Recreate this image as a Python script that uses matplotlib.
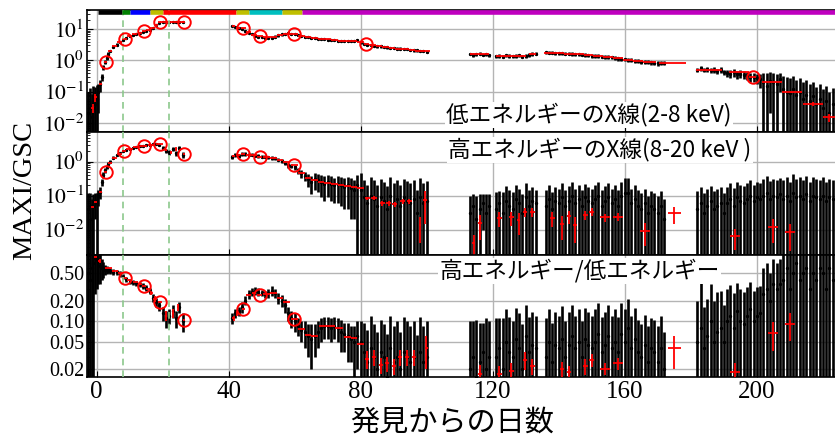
import numpy as np
import matplotlib
matplotlib.use('Agg')
import matplotlib.pyplot as plt
from matplotlib.ticker import NullFormatter

plt.rcParams['mathtext.fontset'] = 'stix'
plt.rcParams['font.family'] = ['Liberation Serif', 'DejaVu Serif']
JP = ['Noto Sans CJK JP', 'DejaVu Sans']

# ---------------- black (daily) data, per segment ----------------
days_A = [-2.5, -2, -1.5, -1, -0.5, 0, 0.5, 1, 1.5, 2, 2.5, 3, 3.5,
          4, 5, 6, 7, 8, 9, 10, 11, 12, 13, 14, 15, 16, 17, 18, 19, 20, 21, 22, 23, 24, 25, 26]
lo_A = [0.02, 0.03, 0.015, 0.03, 0.04, 0.06, 0.1, 0.17, 0.3, 0.6, 0.9, 1.2, 1.6,
        2.0, 2.7, 3.2, 3.8, 4.6, 5.3, 6.0, 6.6, 7.1, 7.8, 8.4, 8.8, 9.5, 11, 14, 16,
        17, 17.5, 16.8, 17.2, 16.9, 17.3, 16.6]
lo_A_err = [0.08, 0.1, 0.07, 0.12, 0.1, 0.1, 0.08, 0.07, 0.08, 0.1, 0.12, 0.15, 0.2,
            0.2, 0.25, 0.3, 0.3, 0.35, 0.4, 0.4, 0.45, 0.45, 0.5, 0.5, 0.5, 0.6, 0.7, 0.8, 0.8,
            0.8, 0.8, 0.8, 0.8, 0.8, 0.8, 0.8]
hi_A = [0.04, 0.05, 0.02, 0.05, 0.07, 0.06, 0.1, 0.13, 0.25, 0.4, 0.55, 0.7, 0.85,
        1.0, 1.3, 1.6, 1.8, 2.0, 2.2, 2.4, 2.5, 2.7, 2.8, 2.9, 3.0, 3.1, 3.2, 3.2, 3.1,
        2.5, 2.1, 1.9, 2.3, 1.8, 2.5, 1.6]
hi_A_err = [0.08, 0.07, 0.06, 0.06, 0.05, 0.06, 0.05, 0.05, 0.06, 0.08, 0.08, 0.08, 0.1,
            0.1, 0.12, 0.12, 0.14, 0.15, 0.15, 0.16, 0.17, 0.17, 0.18, 0.18, 0.2, 0.2, 0.2, 0.2, 0.2,
            0.3, 0.3, 0.3, 0.3, 0.3, 0.3, 0.3]
hr_A = [0.5, 0.4, 0.6, 0.7, 0.85, 0.8, 0.75, 0.65, 0.6, 0.58, 0.57, 0.57, 0.56,
        0.55, 0.53, 0.52, 0.5, 0.45, 0.41, 0.38, 0.37, 0.36, 0.35, 0.33, 0.31, 0.28, 0.22, 0.19, 0.17,
        0.13, 0.11, 0.12, 0.14, 0.11, 0.16, 0.1]
hr_A_err = [1.0, 0.8, 1.0, 0.8, 0.6, 0.5, 0.4, 0.3, 0.2, 0.15, 0.1, 0.08, 0.06,
            0.06, 0.05, 0.05, 0.05, 0.04, 0.04, 0.03, 0.03, 0.03, 0.03, 0.03, 0.03, 0.03, 0.03, 0.03, 0.03,
            0.03, 0.03, 0.03, 0.03, 0.03, 0.03, 0.03]

days_B = list(range(41, 101))
lo_B = [13, 12, 11, 10, 9, 7.8, 6.8, 6.2, 5.8, 5.5,
        5.3, 5.2, 5.4, 5.8, 6.3, 6.8, 7.2, 7.3, 7.0, 7.1,
        6.6, 6.1, 5.8, 5.5, 5.3, 5.1, 5.0, 4.9, 4.7, 4.6,
        4.5, 4.4, 4.3, 4.3, 4.2, 4.1, 4.1, 4.3, 4.6, 3.8,
        3.4, 3.2, 3.1, 2.9, 2.8, 2.8, 2.7, 2.6, 2.5, 2.5,
        2.4, 2.4, 2.3, 2.3, 2.2, 2.1, 2.1, 2.0, 2.0, 1.9]
lo_B_err = [0.8, 0.7, 0.7, 0.6, 0.6, 0.5, 0.5, 0.5, 0.4, 0.4,
            0.4, 0.5, 0.4, 0.5, 0.5, 0.6, 0.5, 0.5, 0.5, 0.5,
            0.4, 0.4, 0.4, 0.35, 0.35, 0.35, 0.3, 0.35, 0.3, 0.3,
            0.3, 0.3, 0.3, 0.3, 0.3, 0.3, 0.3, 0.35, 0.4, 0.35,
            0.3, 0.3, 0.25, 0.25, 0.25, 0.25, 0.2, 0.25, 0.2, 0.2,
            0.2, 0.2, 0.2, 0.2, 0.2, 0.2, 0.2, 0.15, 0.15, 0.15]
hi_B = [1.4, 1.6, 1.5, 1.7, 1.7, 1.6, 1.6, 1.5, 1.45, 1.4,
        1.4, 1.35, 1.3, 1.25, 1.15, 1.05, 0.9, 0.8, 0.75, 0.7,
        0.55, 0.45, 0.38, 0.3, 0.25, 0.3, 0.28, 0.25, 0.22, 0.25,
        0.22, 0.2, 0.22, 0.2, 0.18, 0.2, 0.17, 0.15, 0.2, 0.15,
        0.09, 0.06, 0.1, 0.08, 0.05, 0.09, 0.07, 0.04, 0.1, 0.06,
        0.08, 0.05, 0.09, 0.07, 0.06, 0.08, 0.03, 0.09, 0.06, 0.07]
hi_B_err = [0.2, 0.2, 0.2, 0.2, 0.2, 0.18, 0.18, 0.17, 0.17, 0.16,
            0.16, 0.15, 0.15, 0.15, 0.14, 0.14, 0.13, 0.13, 0.12, 0.12,
            0.12, 0.12, 0.12, 0.12, 0.14, 0.15, 0.15, 0.16, 0.15, 0.16,
            0.15, 0.14, 0.16, 0.15, 0.14, 0.16, 0.15, 0.13, 0.2, 0.3,
            0.2, 0.15, 0.25, 0.2, 0.15, 0.22, 0.18, 0.15, 0.25, 0.18,
            0.2, 0.15, 0.22, 0.2, 0.18, 0.2, 0.12, 0.25, 0.18, 0.2]
hr_B = [0.11, 0.13, 0.14, 0.16, 0.2, 0.25, 0.27, 0.28, 0.27, 0.26,
        0.25, 0.26, 0.28, 0.26, 0.22, 0.2, 0.17, 0.13, 0.11, 0.1,
        0.085, 0.075, 0.07, 0.06, 0.055, 0.06, 0.07, 0.08, 0.085, 0.085,
        0.08, 0.085, 0.08, 0.07, 0.065, 0.06, 0.055, 0.05, 0.06, 0.05,
        0.035, 0.025, 0.04, 0.03, 0.02, 0.035, 0.03, 0.015, 0.04, 0.025,
        0.03, 0.02, 0.035, 0.03, 0.025, 0.03, 0.012, 0.035, 0.025, 0.03]
hr_B_err = [0.02, 0.02, 0.02, 0.03, 0.03, 0.04, 0.04, 0.04, 0.04, 0.03,
            0.03, 0.04, 0.05, 0.04, 0.04, 0.04, 0.04, 0.03, 0.03, 0.03,
            0.025, 0.025, 0.03, 0.03, 0.035, 0.03, 0.03, 0.03, 0.03, 0.03,
            0.03, 0.03, 0.03, 0.035, 0.03, 0.035, 0.03, 0.035, 0.04, 0.05,
            0.06, 0.05, 0.08, 0.06, 0.05, 0.07, 0.06, 0.05, 0.08, 0.06,
            0.07, 0.05, 0.08, 0.07, 0.06, 0.07, 0.05, 0.08, 0.06, 0.07]

days_C = [113, 114, 115, 116, 117, 118, 119]
lo_C = [1.6, 1.5, 1.55, 1.65, 1.5, 1.6, 1.45]
lo_C_err = [0.15, 0.18, 0.15, 0.2, 0.15, 0.18, 0.2]
hi_C = [0.03, 0.05, 0.02, 0.04, 0.06, 0.03, 0.05]
hi_C_err = [0.07, 0.06, 0.08, 0.07, 0.05, 0.08, 0.06]
hr_C = [0.02, 0.03, 0.015, 0.025, 0.035, 0.02, 0.03]
hr_C_err = [0.08, 0.07, 0.09, 0.07, 0.06, 0.09, 0.07]

days_D = list(range(121, 134))
lo_D = [1.35, 1.4, 1.3, 1.45, 1.4, 1.35, 1.4, 1.45, 1.3, 1.4, 1.5, 1.6, 1.65]
lo_D_err = [0.15, 0.18, 0.15, 0.2, 0.18, 0.15, 0.2, 0.18, 0.15, 0.2, 0.18, 0.2, 0.2]
hi_D = [0.04, 0.06, 0.03, 0.07, 0.05, 0.04, 0.08, 0.06, 0.03, 0.09, 0.05, 0.07, 0.06]
hi_D_err = [0.09, 0.08, 0.1, 0.12, 0.1, 0.09, 0.12, 0.1, 0.08, 0.14, 0.1, 0.11, 0.09]
hr_D = [0.03, 0.04, 0.02, 0.05, 0.035, 0.03, 0.055, 0.04, 0.02, 0.06, 0.035, 0.045, 0.04]
hr_D_err = [0.08, 0.07, 0.09, 0.1, 0.08, 0.07, 0.1, 0.09, 0.07, 0.11, 0.08, 0.09, 0.08]

days_E = list(range(136, 173))
lo_E = [1.8, 1.75, 1.78, 1.72, 1.7, 1.7, 1.65, 1.62, 1.6, 1.58,
        1.55, 1.52, 1.5, 1.45, 1.42, 1.4, 1.36, 1.33, 1.3, 1.28,
        1.25, 1.2, 1.15, 1.12, 1.08, 1.05, 1.02, 0.98, 0.95, 0.92,
        0.9, 0.88, 0.86, 0.82, 0.8, 0.85, 0.82]
lo_E_err = [0.2, 0.18, 0.2, 0.18, 0.2, 0.18, 0.2, 0.18, 0.2, 0.18,
            0.2, 0.18, 0.2, 0.18, 0.2, 0.18, 0.2, 0.18, 0.2, 0.18,
            0.18, 0.17, 0.16, 0.16, 0.15, 0.16, 0.15, 0.15, 0.15, 0.14,
            0.14, 0.14, 0.13, 0.13, 0.13, 0.12, 0.12]
hi_E = [0.05, 0.08, 0.04, 0.07, 0.06, 0.09, 0.05, 0.07, 0.1, 0.06,
        0.08, 0.05, 0.09, 0.07, 0.06, 0.08, 0.1, 0.05, 0.07, 0.09,
        0.06, 0.08, 0.05, 0.1, 0.12, 0.12, 0.06, 0.08, 0.05, 0.04,
        0.06, 0.03, 0.05, 0.04, 0.03, 0.05, 0.02]
hi_E_err = [0.1, 0.12, 0.09, 0.11, 0.1, 0.14, 0.1, 0.12, 0.15, 0.1,
            0.12, 0.1, 0.13, 0.11, 0.1, 0.12, 0.15, 0.1, 0.12, 0.14,
            0.1, 0.12, 0.1, 0.15, 0.2, 0.2, 0.1, 0.12, 0.1, 0.08,
            0.1, 0.07, 0.09, 0.08, 0.07, 0.09, 0.06]
hr_E = [0.03, 0.05, 0.025, 0.045, 0.04, 0.055, 0.03, 0.045, 0.06, 0.04,
        0.05, 0.03, 0.055, 0.045, 0.04, 0.05, 0.065, 0.035, 0.045, 0.06,
        0.04, 0.05, 0.035, 0.065, 0.05, 0.08, 0.04, 0.055, 0.035, 0.03,
        0.045, 0.025, 0.04, 0.035, 0.025, 0.04, 0.02]
hr_E_err = [0.08, 0.1, 0.07, 0.09, 0.08, 0.11, 0.07, 0.09, 0.11, 0.08,
            0.1, 0.07, 0.1, 0.09, 0.08, 0.1, 0.12, 0.08, 0.09, 0.11,
            0.08, 0.1, 0.08, 0.12, 0.1, 0.13, 0.08, 0.1, 0.07, 0.06,
            0.08, 0.06, 0.07, 0.07, 0.06, 0.08, 0.05]

days_F = list(range(182, 225))
lo_F = [0.5, 0.55, 0.5, 0.52, 0.48, 0.5, 0.45, 0.5, 0.42,
        0.4, 0.38, 0.42, 0.36, 0.38, 0.35, 0.33, 0.3, 0.3, 0.28, 0.25,
        0.2, 0.15, 0.22, 0.2, 0.18, 0.25,
        0.12, 0.1, 0.09, 0.12, 0.08, 0.1, 0.06, 0.08, 0.05, 0.07, 0.04, 0.06, 0.03, 0.05, 0.02, 0.04, 0.03]
lo_F_err = [0.08, 0.1, 0.08, 0.1, 0.08, 0.1, 0.08, 0.1, 0.08,
            0.1, 0.1, 0.12, 0.1, 0.1, 0.1, 0.1, 0.1, 0.1, 0.1, 0.12,
            0.2, 0.25, 0.2, 0.2, 0.2, 0.15,
            0.2, 0.2, 0.18, 0.2, 0.16, 0.18, 0.14, 0.15, 0.12, 0.14, 0.1, 0.12, 0.09, 0.1, 0.08, 0.09, 0.08]
hi_F = [0.04, 0.06, 0.03, 0.05, 0.07, 0.04, 0.05, 0.06, 0.03,
        0.06, 0.08, 0.05, 0.09, 0.07, 0.06, 0.08, 0.1, 0.07, 0.09, 0.08,
        0.1, 0.12, 0.08, 0.1, 0.09, 0.11,
        0.08, 0.1, 0.07, 0.12, 0.09, 0.1, 0.08, 0.11, 0.07, 0.1, 0.09, 0.08, 0.1, 0.07, 0.09, 0.08, 0.1]
hi_F_err = [0.1, 0.12, 0.09, 0.11, 0.12, 0.1, 0.11, 0.12, 0.09,
            0.12, 0.15, 0.12, 0.16, 0.14, 0.13, 0.15, 0.18, 0.14, 0.16, 0.15,
            0.2, 0.25, 0.18, 0.2, 0.2, 0.22,
            0.2, 0.25, 0.18, 0.3, 0.22, 0.25, 0.2, 0.28, 0.18, 0.25, 0.22, 0.2, 0.25, 0.18, 0.22, 0.2, 0.25]
hr_F = [0.05, 0.08, 0.04, 0.06, 0.1, 0.05, 0.07, 0.08, 0.05,
        0.1, 0.12, 0.08, 0.14, 0.1, 0.09, 0.12, 0.15, 0.1, 0.12, 0.13,
        0.25, 0.3, 0.2, 0.35, 0.3, 0.35,
        0.4, 0.6, 0.3, 0.5, 0.7, 0.4, 0.5, 0.6, 0.3, 0.5, 0.4, 0.6, 0.5, 0.3, 0.6, 0.4, 0.5]
hr_F_err = [0.15, 0.28, 0.12, 0.15, 0.25, 0.15, 0.2, 0.2, 0.12,
            0.2, 0.22, 0.18, 0.22, 0.2, 0.18, 0.2, 0.22, 0.18, 0.2, 0.2,
            0.35, 0.4, 0.3, 0.45, 0.4, 0.45,
            0.9, 1.0, 0.8, 1.0, 0.9, 1.0, 0.8, 0.9, 1.0, 0.8, 0.9, 1.0, 0.9, 0.8, 1.0, 0.9, 1.0]

# ---------------- red binned data: (centre day, half width, value, error) ----------------
red_lo = [(-1.2, 0.4, 0.03, 0.01), (-0.4, 0.4, 0.066, 0.02), (1.1, 0.5, 0.17, 0), (2.7, 0.5, 0.88, 0),
          (4.0, 0.7, 2.0, 0), (5.5, 0.8, 2.9, 0), (7.0, 0.7, 3.8, 0), (8.5, 0.8, 4.8, 0), (10.0, 0.7, 6.0, 0),
          (11.5, 0.8, 6.9, 0), (13.0, 0.6, 7.8, 0), (14.2, 0.6, 8.6, 0), (15.5, 0.7, 9.2, 0), (17.0, 0.8, 11, 0),
          (18.1, 0.5, 14, 0), (19.1, 0.5, 16.5, 0), (22.75, 3.6, 17, 0), (26.4, 0.5, 16.5, 0),
          (41.5, 0.5, 12.5, 0), (42.8, 0.7, 11, 0), (44.4, 0.8, 10.5, 0), (46.0, 0.8, 8, 0), (47.7, 0.8, 6.5, 0),
          (49.4, 0.9, 5.9, 0), (51.5, 1, 5.5, 0), (53.5, 1, 5.6, 0), (55.5, 1, 6.3, 0), (57.5, 1, 6.9, 0),
          (59.9, 1.2, 7.2, 0), (62, 1, 6.1, 0), (64, 1, 5.6, 0), (66, 1, 5.2, 0), (68, 1, 4.9, 0), (70, 1, 4.7, 0),
          (72, 1, 4.5, 0), (74, 1, 4.3, 0), (76, 1, 4.1, 0), (78, 1, 4.2, 0), (80, 1, 3.8, 0), (81.7, 0.8, 3.45, 0),
          (83.5, 1, 3.1, 0), (85.5, 1, 2.9, 0), (87.5, 1, 2.7, 0), (89.5, 1, 2.5, 0), (91.5, 1, 2.4, 0),
          (93.5, 1, 2.3, 0), (95.5, 1, 2.2, 0), (97.5, 1, 2.05, 0), (99.8, 1.3, 1.95, 0),
          (114.5, 1.5, 1.65, 0), (117.5, 1.5, 1.55, 0), (122.5, 1.5, 1.38, 0), (125.5, 1.5, 1.38, 0),
          (128.5, 1.5, 1.4, 0), (132, 1, 1.65, 0), (137, 1.5, 1.75, 0), (140, 1.5, 1.7, 0), (143, 1.5, 1.6, 0),
          (146, 1.5, 1.55, 0), (149, 1.5, 1.45, 0), (152, 1.5, 1.35, 0), (155, 1.5, 1.3, 0), (158, 1.5, 1.15, 0),
          (161, 1.5, 1.05, 0), (164, 1.5, 0.95, 0), (167.5, 2, 0.9, 0), (174.5, 4, 0.84, 0),
          (185.5, 4, 0.51, 0), (194.5, 3, 0.42, 0), (198.7, 1.2, 0.30, 0), (204.5, 3, 0.21, 0),
          (210.6, 3, 0.095, 0.005), (217, 3, 0.040, 0.005), (222, 2, 0.015, 0.004)]
red_hi = [(-1.2, 0.4, 0.047, 0), (-0.4, 0.4, 0.066, 0), (1.1, 0.5, 0.126, 0), (2.7, 0.5, 0.49, 0),
          (4.0, 0.7, 0.9, 0), (5.5, 0.8, 1.3, 0), (7.0, 0.7, 1.7, 0), (8.3, 0.6, 2.0, 0), (10, 1, 2.3, 0),
          (12, 1, 2.6, 0), (14.2, 1, 2.9, 0), (16.5, 1, 3.0, 0), (19.1, 1, 3.2, 0), (21, 0.3, 2.2, 0.2),
          (22.5, 0.3, 1.9, 0.2), (24, 0.3, 2.3, 0.3), (26.4, 0.4, 1.7, 0),
          (41.5, 0.5, 1.45, 0), (42.8, 0.5, 1.6, 0), (44.4, 0.6, 1.7, 0), (46, 0.8, 1.6, 0), (47.7, 0.8, 1.55, 0),
          (49.4, 0.8, 1.4, 0), (51.5, 1, 1.4, 0), (53.5, 1, 1.3, 0), (55.5, 1, 1.15, 0), (57.5, 1, 0.95, 0),
          (59.9, 1, 0.78, 0), (62, 1, 0.46, 0), (64, 1, 0.33, 0), (66, 1, 0.28, 0), (68, 1, 0.25, 0),
          (70, 1, 0.23, 0), (72, 1, 0.22, 0), (74, 1, 0.21, 0), (76, 1, 0.19, 0), (78, 1, 0.18, 0), (80, 1, 0.17, 0),
          (82, 0.8, 0.084, 0.01), (84, 0.8, 0.085, 0.01), (86.5, 0.8, 0.06, 0.01), (88.5, 0.8, 0.06, 0.01),
          (90.3, 0.8, 0.055, 0.01), (92.7, 0.8, 0.07, 0.012), (94.7, 0.8, 0.07, 0.012), (97.9, 0.3, 0.014, 0.01),
          (99.4, 0.6, 0.075, 0.06),
          (114.2, 0.4, 0.004, 0.003), (116, 0.6, 0.016, 0.011), (122, 0.8, 0.022, 0.01), (125.6, 0.8, 0.023, 0.01),
          (127.8, 0.6, 0.019, 0.012), (129.7, 0.6, 0.034, 0.01), (132, 0.8, 0.034, 0.01), (138, 0.8, 0.022, 0.01),
          (141, 0.6, 0.015, 0.01), (143, 0.6, 0.025, 0.01), (145, 0.6, 0.014, 0.01), (148, 0.8, 0.027, 0.008),
          (150, 0.8, 0.034, 0.008), (154, 1.5, 0.023, 0.006), (158, 1.5, 0.024, 0.006), (166, 1.5, 0.0092, 0.006),
          (175, 2, 0.030, 0.015), (193.3, 1.5, 0.0065, 0.004), (205, 1.5, 0.012, 0.008), (210, 1.5, 0.0084, 0.006)]
red_hr = [(-0.4, 0.4, 0.88, 0), (0.9, 0.5, 0.77, 0.05), (3.5, 1, 0.59, 0), (5.5, 1, 0.55, 0), (7.2, 0.8, 0.5, 0),
          (8.5, 0.7, 0.43, 0), (10, 0.8, 0.4, 0), (11.7, 0.8, 0.37, 0), (13, 0.6, 0.35, 0), (14.2, 0.6, 0.33, 0),
          (15.5, 0.6, 0.3, 0), (16.5, 0.5, 0.26, 0.02), (17.7, 0.6, 0.21, 0.02), (19.1, 0.6, 0.19, 0),
          (21, 0.3, 0.12, 0.02), (23, 0.3, 0.13, 0.02), (24.5, 0.3, 0.16, 0.02), (26.4, 0.4, 0.103, 0),
          (41.5, 0.4, 0.11, 0.01), (42.5, 0.4, 0.13, 0.01), (44.4, 0.5, 0.153, 0), (46, 0.7, 0.24, 0),
          (47.7, 0.7, 0.26, 0), (49.4, 0.7, 0.24, 0), (51.5, 1, 0.25, 0), (53.5, 1, 0.26, 0), (55.5, 1, 0.22, 0),
          (57.5, 1, 0.19, 0), (59.9, 1, 0.108, 0), (62, 1, 0.078, 0), (64, 1, 0.062, 0), (66, 1, 0.06, 0),
          (68.5, 1.2, 0.085, 0), (71, 1.2, 0.085, 0), (73.5, 1.2, 0.08, 0), (76, 1, 0.058, 0), (78, 1, 0.056, 0),
          (80, 1, 0.047, 0), (82, 0.6, 0.028, 0.008), (84, 0.6, 0.03, 0.008), (86, 0.6, 0.023, 0.006),
          (88, 0.6, 0.024, 0.006), (90, 0.6, 0.022, 0.006), (92, 0.6, 0.03, 0.008), (94, 0.6, 0.03, 0.008),
          (96, 0.6, 0.03, 0.008), (99.9, 0.5, 0.04, 0.02),
          (116, 0.6, 0.017, 0.006), (122, 0.8, 0.017, 0.005), (125.6, 0.8, 0.0186, 0.006), (129.7, 0.6, 0.027, 0.008),
          (132, 0.8, 0.022, 0.006), (141, 0.6, 0.02, 0.005), (143, 0.6, 0.018, 0.004), (148, 0.8, 0.022, 0.006),
          (150, 0.8, 0.027, 0.006), (154, 1.5, 0.02, 0.004), (158, 1.5, 0.024, 0.005), (175, 2, 0.040, 0.02),
          (193.3, 1.5, 0.018, 0.006), (205, 1.5, 0.066, 0.03), (210, 1.5, 0.092, 0.04)]

# ---------------- circled epochs ----------------
circ_lo_x = [2.7, 8.5, 14.2, 19.1, 26.4, 44.4, 49.4, 59.9, 81.7, 198.7]
circ_lo_y = [0.88, 4.8, 8.6, 16.5, 16.5, 10.5, 5.9, 7.2, 3.45, 0.30]
circ_hi_x = [2.7, 8.3, 14.2, 19.1, 26.4, 44.4, 49.4, 59.9]
circ_hi_y = [0.49, 2.0, 2.9, 3.2, 1.7, 1.7, 1.4, 0.78]
circ_hr_x = [8.5, 14.2, 19.1, 26.4, 44.4, 49.4, 59.9]
circ_hr_y = [0.43, 0.33, 0.19, 0.103, 0.153, 0.24, 0.108]

# state bar along the top
band_start = [0.4, 7.8, 10, 16.1, 20.1, 42.1, 46.1, 56.2, 62.2]
band_end = [7.8, 10, 16.1, 20.1, 42.1, 46.1, 56.2, 62.2, 224.6]
band_color = ['k', 'g', 'b', 'y', 'r', 'y', 'c', 'y', 'm']

vlines_days = [8, 22]

x_ticks = [0, 40, 80, 120, 160, 200]
p1_ticks = [1e-2, 1e-1, 1, 10]
p1_labels = [r'$10^{-2}$', r'$10^{-1}$', r'$10^{0}$', r'$10^{1}$']
p2_ticks = [1e-2, 1e-1, 1]
p2_labels = [r'$10^{-2}$', r'$10^{-1}$', r'$10^{0}$']
p3_ticks = [0.02, 0.05, 0.1, 0.2, 0.5]
p3_labels = ['0.02', '0.05', '0.10', '0.20', '0.50']

panel_titles = ['低エネルギーのX線(2-8 keV)', '高エネルギーのX線(8-20 keV )', '高エネルギー/低エネルギー']

# ---------------- assemble ----------------
days = days_A + days_B + days_C + days_D + days_E + days_F
lo = lo_A + lo_B + lo_C + lo_D + lo_E + lo_F
lo_err = lo_A_err + lo_B_err + lo_C_err + lo_D_err + lo_E_err + lo_F_err
hi = hi_A + hi_B + hi_C + hi_D + hi_E + hi_F
hi_err = hi_A_err + hi_B_err + hi_C_err + hi_D_err + hi_E_err + hi_F_err
hr = hr_A + hr_B + hr_C + hr_D + hr_E + hr_F
hr_err = hr_A_err + hr_B_err + hr_C_err + hr_D_err + hr_E_err + hr_F_err

fig = plt.figure(figsize=(8.35, 4.42), dpi=100)
W_PX, H_PX = 835, 442
left_px, right_px = 87, 838
rows = [(10, 132), (132, 255), (255, 377)]
axes = []
for top, bot in rows:
    ax = fig.add_axes([left_px / W_PX, 1 - bot / H_PX, (right_px - left_px) / W_PX, (bot - top) / H_PX])
    axes.append(ax)

series = [(lo, lo_err, red_lo, circ_lo_x, circ_lo_y, (0.0051, 41), p1_ticks, p1_labels, 15.5),
          (hi, hi_err, red_hi, circ_hi_x, circ_hi_y, (0.0018, 7.4), p2_ticks, p2_labels, 15.5),
          (hr, hr_err, red_hr, circ_hr_x, circ_hr_y, (0.0152, 0.93), p3_ticks, p3_labels, 14.5)]

for i, (ax, (val, err, red, cx, cy, ylim, yt, yl, yfs)) in enumerate(zip(axes, series)):
    ax.set_yscale('log', nonpositive='clip')
    ax.set_xlim(-2.94, 224.6)
    ax.set_ylim(*ylim)
    ax.grid(True, which='major', color='#b4b4b4', lw=1.0, zorder=0)
    ax.set_axisbelow(True)
    ax.errorbar(days, val, yerr=err, fmt='o', ms=1.4, color='k', ecolor='k',
                elinewidth=1.9, capsize=0, zorder=2)
    rx, rxe, ry, rye = zip(*red)
    ax.errorbar(rx, ry, xerr=rxe, yerr=rye, fmt='none', ecolor='red', elinewidth=1.3,
                capsize=0, zorder=3)
    ax.plot(cx, cy, 'o', ms=9, mfc='none', mec='red', mew=1.4, zorder=4)
    for d in vlines_days:
        ax.axvline(d, color='#8cc88c', ls=(0, (4, 3)), lw=1.2, zorder=3.5)
    ax.set_yticks(yt)
    ax.set_yticklabels(yl, fontsize=yfs)
    ax.yaxis.set_minor_formatter(NullFormatter())
    ax.set_xticks(x_ticks)
    ax.tick_params(axis='both', which='both', direction='in', pad=2)
    ax.tick_params(axis='y', which='major', length=4)
    ax.tick_params(axis='x', which='major', length=4, labelsize=18, pad=3)
    for sp in ax.spines.values():
        sp.set_linewidth(1.2)
    if i < 2:
        ax.tick_params(axis='x', labelbottom=False)

# state bar
trans = axes[0].get_xaxis_transform()
for s, e, c in zip(band_start, band_end, band_color):
    axes[0].plot([s, e], [0.982, 0.982], color=c, lw=3.3, solid_capstyle='butt',
                 transform=trans, clip_on=False, zorder=6)

box = dict(boxstyle='square,pad=0.05', fc='white', ec='none')
axes[0].text(0.668, 0.14, panel_titles[0], transform=axes[0].transAxes, ha='center', va='center',
             fontsize=16.3, family=JP, bbox=box, zorder=7)
axes[1].text(0.683, 0.855, panel_titles[1], transform=axes[1].transAxes, ha='center', va='center',
             fontsize=16.3, family=JP, bbox=box, zorder=7)
axes[2].text(0.656, 0.87, panel_titles[2], transform=axes[2].transAxes, ha='center', va='center',
             fontsize=16.3, family=JP, bbox=box, zorder=7)

fig.text(25 / W_PX, 1 - 190 / H_PX, 'MAXI/GSC', rotation=90, ha='center', va='center', fontsize=20.5)
fig.text(452 / W_PX, 1 - 423 / H_PX, '発見からの日数', ha='center', va='center', fontsize=21, family=JP)

fig.savefig('out.png', dpi=100)
